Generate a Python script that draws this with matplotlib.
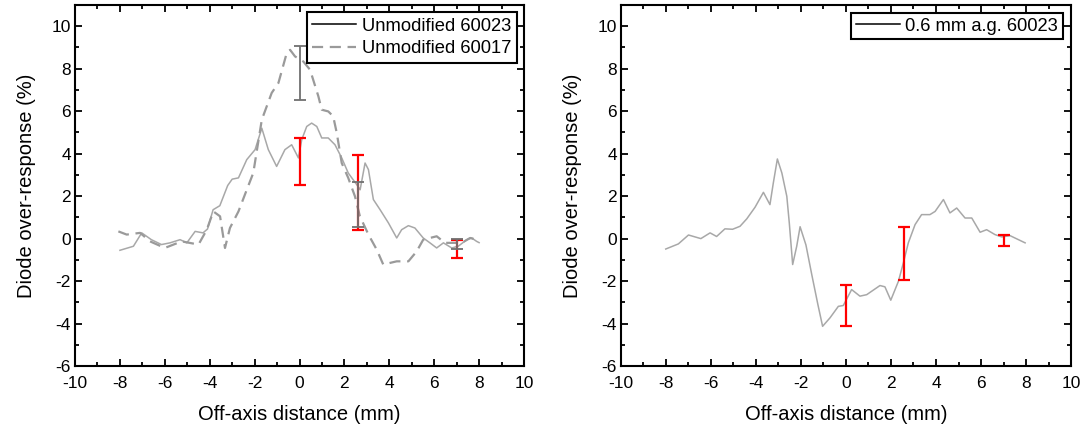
import matplotlib.pyplot as plt
from matplotlib.lines import Line2D
from matplotlib.ticker import MultipleLocator

plt.rcParams['font.family'] = ['Liberation Sans', 'DejaVu Sans']
plt.rcParams['axes.unicode_minus'] = False

# left panel: unmodified diodes
x_60023 = [-8.0, -7.4, -7.03, -6.6, -6.15, -5.77, -5.32, -5.02, -4.65, -4.3, -4.1, -3.85,
           -3.55, -3.2, -3.0, -2.72, -2.35, -1.98, -1.68, -1.39, -1.02, -0.65, -0.35, -0.05,
           0.1, 0.32, 0.54, 0.77, 0.99, 1.28, 1.58, 1.88, 2.17, 2.55, 2.7, 2.92, 3.07, 3.29,
           3.59, 3.96, 4.33, 4.55, 4.85, 5.14, 5.51, 5.81, 6.11, 6.41, 6.78, 7.07, 7.45, 7.67,
           7.89, 8.0]
y_60023 = [-0.55, -0.36, 0.27, -0.05, -0.28, -0.2, -0.05, -0.2, 0.34, 0.27, 0.45, 1.36,
           1.55, 2.5, 2.8, 2.86, 3.72, 4.19, 5.2, 4.19, 3.4, 4.19, 4.42, 3.8,
           4.66, 5.28, 5.44, 5.28, 4.74, 4.74, 4.42, 3.8, 3.09, 2.54, 2.3, 3.56, 3.25, 1.84,
           1.36, 0.74, 0.03, 0.42, 0.61, 0.5, 0.03, -0.2, -0.44, -0.2, -0.44, -0.36, -0.05, 0.03,
           -0.13, -0.19]

x_60017 = [-8.07, -7.7, -7.1, -6.66, -6.0, -5.25, -4.5, -4.13, -3.84, -3.54, -3.32, -3.1,
           -2.72, -2.35, -2.06, -1.68, -1.46, -1.24, -0.94, -0.57, -0.42, -0.2, 0.17, 0.47,
           0.84, 0.99, 1.28, 1.5, 1.66, 1.88, 2.17, 2.47, 2.69, 3.07, 3.44, 3.73, 4.33, 4.85,
           5.22, 5.51, 5.81, 6.11, 6.48, 6.93, 7.23, 7.6, 7.89]
y_60017 = [0.34, 0.19, 0.27, -0.13, -0.44, -0.13, -0.28, 0.42, 1.28, 1.05, -0.44, 0.5,
           1.28, 2.3, 3.09, 5.6, 6.23, 6.86, 7.33, 8.74, 8.89, 8.58, 8.34, 7.95,
           6.7, 6.07, 5.99, 5.76, 4.97, 3.56, 2.86, 1.99, 1.05, 0.19, -0.52, -1.22, -1.07, -1.07,
           -0.6, -0.05, 0.03, 0.11, -0.2, -0.2, -0.2, 0.03, -0.05]

# error bars (low, high)
err_x = [0, 2.6, 7]
red_lo_left = [2.54, 0.4, -0.9]
red_hi_left = [4.74, 3.92, -0.08]
gray_lo_left = [6.54, 0.55, -0.5]
gray_hi_left = [9.08, 2.65, -0.03]

# right panel: 0.6 mm air gap
x_ag = [-8.01, -7.45, -7.0, -6.45, -6.04, -5.75, -5.38, -5.04, -4.71, -4.41, -4.04, -3.67,
        -3.38, -3.23, -3.05, -2.85, -2.63, -2.52, -2.37, -2.19, -2.04, -1.78, -1.52, -1.25,
        -1.04, -0.71, -0.34, -0.12, 0.25, 0.62, 0.92, 1.51, 1.73, 1.99, 2.33, 2.55, 2.77,
        3.07, 3.36, 3.73, 3.96, 4.33, 4.62, 4.92, 5.29, 5.59, 5.96, 6.25, 6.62, 6.92, 7.29,
        7.96]
y_ag = [-0.49, -0.25, 0.17, 0.0, 0.27, 0.1, 0.46, 0.44, 0.58, 0.93, 1.48, 2.18,
        1.6, 2.62, 3.75, 3.09, 1.99, 0.74, -1.22, -0.36, 0.56, -0.3, -1.7, -3.1,
        -4.13, -3.73, -3.19, -3.15, -2.4, -2.71, -2.64, -2.21, -2.27, -2.9, -2.01, -1.14, -0.2,
        0.66, 1.13, 1.13, 1.28, 1.84, 1.21, 1.44, 0.97, 0.97, 0.3, 0.42, 0.19, 0.08, 0.14,
        -0.2]
red_lo_right = [-4.1, -1.93, -0.36]
red_hi_right = [-2.2, 0.55, 0.19]

fig = plt.figure(figsize=(10.86, 4.30), dpi=100)
ax1 = fig.add_axes([0.0691, 0.1488, 0.4134, 0.8395])
ax2 = fig.add_axes([0.5718, 0.1488, 0.4144, 0.8395])


def draw_bars(ax, lo, hi, color, lw):
    mid = [(a + b) / 2 for a, b in zip(lo, hi)]
    half = [(b - a) / 2 for a, b in zip(lo, hi)]
    ax.errorbar(err_x, mid, yerr=half, fmt='none', ecolor=color,
                elinewidth=lw, capsize=4, capthick=lw, zorder=4)


ax1.plot(x_60023, y_60023, color='#a8a8a8', lw=1.1, zorder=2)
ax1.plot(x_60017, y_60017, color='#9a9a9a', lw=1.6, linestyle=(0, (5, 3)), zorder=2)
draw_bars(ax1, red_lo_left, red_hi_left, 'red', 1.6)
draw_bars(ax1, gray_lo_left, gray_hi_left, '#707070', 1.3)

ax2.plot(x_ag, y_ag, color='#a8a8a8', lw=1.1, zorder=2)
draw_bars(ax2, red_lo_right, red_hi_right, 'red', 1.6)

for ax in (ax1, ax2):
    ax.set_xlim(-10, 10)
    ax.set_ylim(-6, 11)
    ax.xaxis.set_major_locator(MultipleLocator(2))
    ax.xaxis.set_minor_locator(MultipleLocator(1))
    ax.yaxis.set_major_locator(MultipleLocator(2))
    ax.yaxis.set_minor_locator(MultipleLocator(1))
    ax.tick_params(which='both', direction='in', top=True, right=True,
                   labelsize=12.5, width=1.3)
    ax.tick_params(axis='x', which='both', pad=7)
    ax.tick_params(axis='y', which='both', pad=3)
    ax.tick_params(which='major', length=5)
    ax.tick_params(which='minor', length=3)
    for sp in ax.spines.values():
        sp.set_linewidth(1.5)
    ax.set_xlabel('Off-axis distance (mm)', fontsize=14.5, labelpad=10)
    ax.set_ylabel('Diode over-response (%)', fontsize=14.5, labelpad=11)

h1 = [Line2D([], [], color='black', lw=1.1),
      Line2D([], [], color='#9a9a9a', lw=1.6, linestyle=(0, (5, 3)))]
leg1 = ax1.legend(h1, ['Unmodified 60023', 'Unmodified 60017'], loc='upper right',
                  fontsize=13.2, fancybox=False, edgecolor='black', framealpha=1,
                  handlelength=2.4, borderpad=0.3, labelspacing=0.3,
                  handletextpad=0.3, borderaxespad=0.4)
leg1.get_frame().set_linewidth(1.5)

h2 = [Line2D([], [], color='black', lw=1.1)]
leg2 = ax2.legend(h2, ['0.6 mm a.g. 60023'], loc='upper right',
                  fontsize=13.2, fancybox=False, edgecolor='black', framealpha=1,
                  handlelength=2.4, borderpad=0.25, handletextpad=0.3, borderaxespad=0.45)
leg2.get_frame().set_linewidth(1.5)

fig.savefig('out.png', dpi=100)
